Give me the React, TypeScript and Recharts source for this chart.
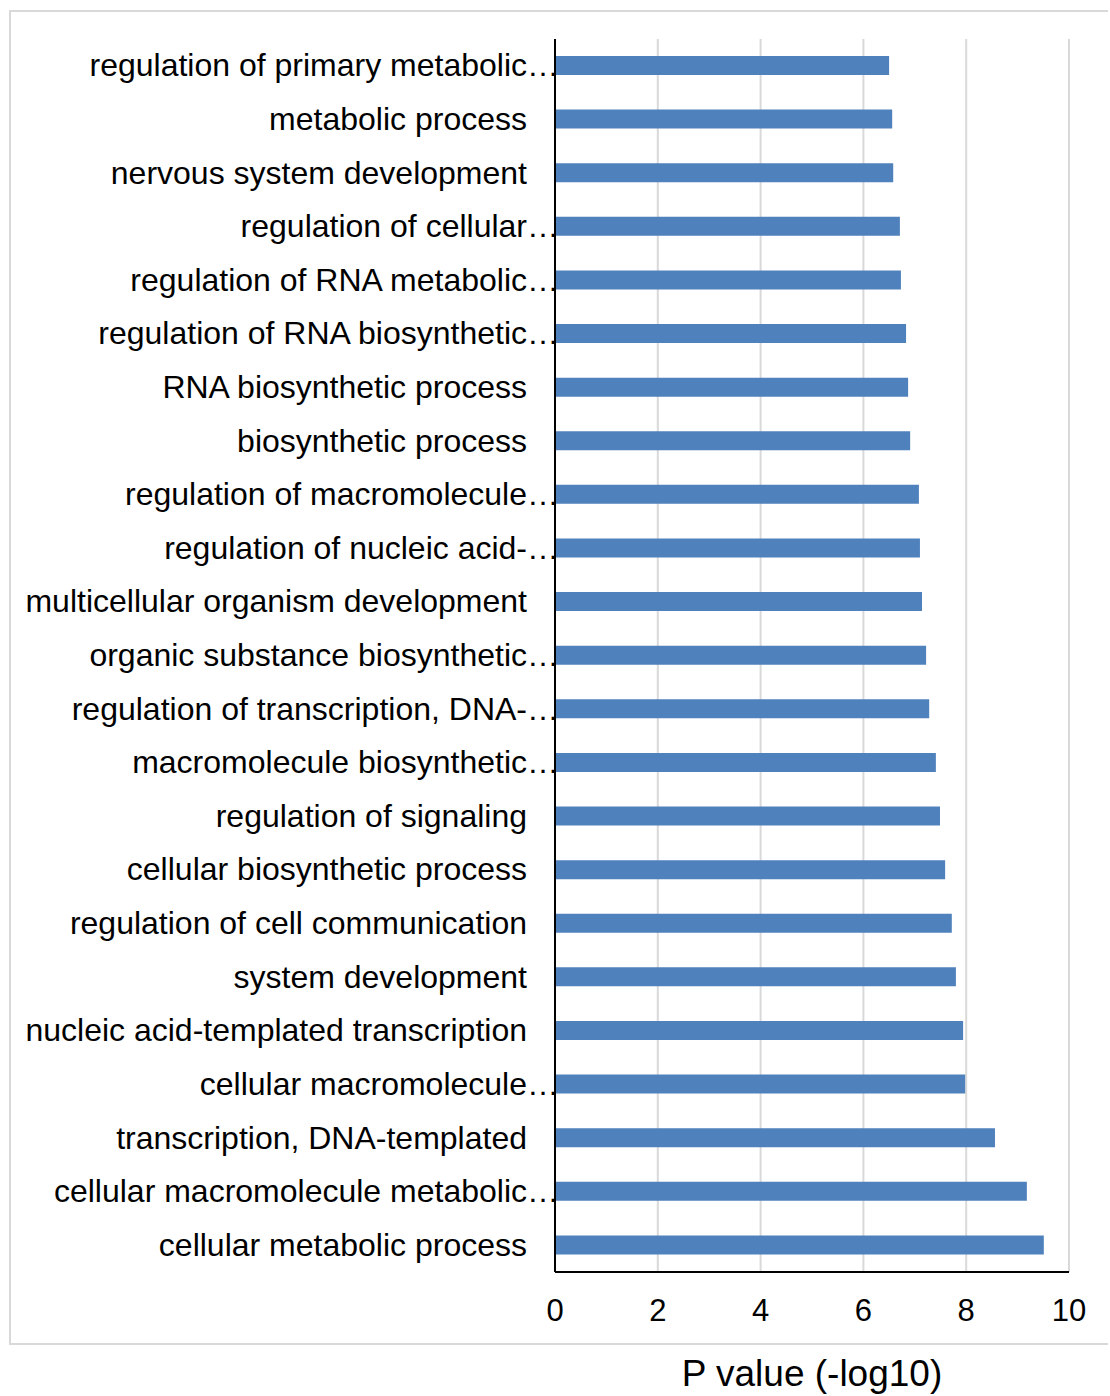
import React from "react";
import { BarChart, Bar, XAxis, YAxis, CartesianGrid, Label } from "recharts";

const categories = [
  "regulation of primary metabolic…",
  "metabolic process",
  "nervous system development",
  "regulation of cellular…",
  "regulation of RNA metabolic…",
  "regulation of RNA biosynthetic…",
  "RNA biosynthetic process",
  "biosynthetic process",
  "regulation of macromolecule…",
  "regulation of nucleic acid-…",
  "multicellular organism development",
  "organic substance biosynthetic…",
  "regulation of transcription, DNA-…",
  "macromolecule biosynthetic…",
  "regulation of signaling",
  "cellular biosynthetic process",
  "regulation of cell communication",
  "system development",
  "nucleic acid-templated transcription",
  "cellular macromolecule…",
  "transcription, DNA-templated",
  "cellular macromolecule metabolic…",
  "cellular metabolic process",
];

const pValues = [
  6.5, 6.56, 6.58, 6.71, 6.73, 6.83, 6.87, 6.91, 7.08, 7.1, 7.14, 7.22, 7.28,
  7.41, 7.49, 7.59, 7.72, 7.8, 7.94, 7.98, 8.56, 9.18, 9.51,
];

const xTicks = [0, 2, 4, 6, 8, 10];

const data = categories.map((name, i) => ({ name, value: pValues[i] }));

const FONT = "'Liberation Sans', Arial, sans-serif";

const CategoryTick = (props: any) => {
  const { x, y, payload } = props;
  const label: string = String(payload.value);
  const truncated = label.endsWith("…");
  const main = truncated ? label.slice(0, -1) : label;
  const endX = x - 20;
  return (
    <g>
      <text
        x={endX}
        y={y}
        dy="0.33em"
        textAnchor="end"
        fontSize={32}
        fontFamily={FONT}
        fill="#000"
      >
        {main}
      </text>
      {truncated && (
        <text
          x={endX}
          y={y}
          dy="0.33em"
          textAnchor="start"
          fontSize={32}
          fontFamily={FONT}
          fill="#000"
        >
          …
        </text>
      )}
    </g>
  );
};

export default function App() {
  return (
    <div
      style={{
        position: "absolute",
        left: 0,
        top: 0,
        width: 1110,
        height: 1396,
        background: "#fff",
      }}
    >
      <div
        style={{
          position: "absolute",
          left: 9,
          top: 10,
          width: 1099,
          height: 1335,
          border: "2px solid #d9d9d9",
          borderRight: "none",
          boxSizing: "border-box",
        }}
      />
      <div style={{ position: "absolute", left: 0, top: 0 }}>
        <BarChart
          width={1110}
          height={1396}
          data={data}
          layout="vertical"
          margin={{ top: 39, right: 41, bottom: 0, left: 0 }}
          barCategoryGap={0}
        >
          <CartesianGrid
            horizontal={false}
            vertical={true}
            stroke="#d9d9d9"
            strokeWidth={2}
          />
          <XAxis
            type="number"
            domain={[0, 10]}
            ticks={xTicks}
            interval={0}
            height={124}
            axisLine={{ stroke: "#000", strokeWidth: 2 }}
            tickLine={false}
            tickMargin={21}
            tick={{ fontSize: 31, fill: "#000", fontFamily: FONT }}
          >
            <Label
              value="P value (-log10)"
              position="insideBottom"
              offset={10}
              style={{ fontSize: 37, fill: "#000", fontFamily: FONT }}
            />
          </XAxis>
          <YAxis
            type="category"
            dataKey="name"
            width={555}
            axisLine={{ stroke: "#000", strokeWidth: 2 }}
            tickLine={false}
            interval={0}
            tick={<CategoryTick />}
          />
          <Bar
            dataKey="value"
            fill="#4F81BD"
            barSize={19}
            isAnimationActive={false}
          />
        </BarChart>
      </div>
    </div>
  );
}
